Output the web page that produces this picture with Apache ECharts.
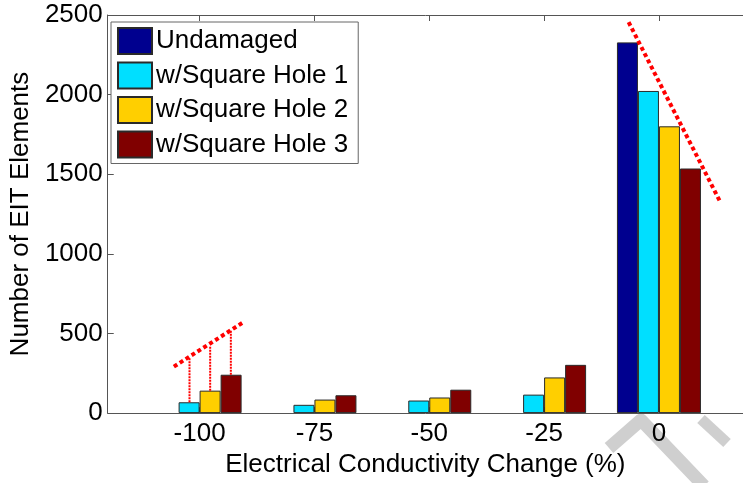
<!DOCTYPE html>
<html>
<head>
<meta charset="utf-8">
<script src="https://cdn.jsdelivr.net/npm/echarts@6/dist/echarts.min.js"></script>
<style>
html,body{margin:0;padding:0;background:#fff;}
#chart{width:743px;height:483px;}
</style>
</head>
<body>
<div id="chart"></div>
<script>
// ---- data ----
var categories = [-100, -75, -50, -25, 0];
var seriesNames = ['Undamaged', 'w/Square Hole 1', 'w/Square Hole 2', 'w/Square Hole 3'];
var undamaged = [0, 0, 0, 0, 2328];
var hole1 = [68, 52, 79, 116, 2023];
var hole2 = [141, 85, 98, 224, 1801];
var hole3 = [241, 112, 147, 303, 1536];
var yTicks = [0, 500, 1000, 1500, 2000, 2500];
// annotation lines (data coordinates)
var trendLow = [[-105.6, 292], [-90.4, 572]];
var trendHigh = [[-6.6, 2455], [13.3, 1329]];
var dropLine1 = [[-102.2, 68], [-102.2, 344]];
var dropLine2 = [[-97.7, 141], [-97.7, 421]];
var dropLine3 = [[-93.2, 241], [-93.2, 520]];

var colors = ['#00008F', '#00DFFF', '#FFCF00', '#800000'];
var FONT = "'Liberation Sans', Arial, sans-serif";

function pairs(vals) {
  return categories.map(function (c, i) {
    var item = { value: [c, vals[i]] };
    if (vals[i] === 0) { item.itemStyle = { borderWidth: 0 }; }
    return item;
  });
}
var allVals = [undamaged, hole1, hole2, hole3];

var series = allVals.map(function (vals, k) {
  return {
    name: seriesNames[k],
    type: 'bar',
    data: pairs(vals),
    barWidth: 21,
    barGap: '0%',
    itemStyle: { color: colors[k], borderColor: '#2a2a2a', borderWidth: 1 },
    emphasis: { disabled: true },
    z: 3
  };
});

function annot(name, data, width, dash) {
  return {
    name: name,
    type: 'line',
    data: data,
    showSymbol: false,
    symbol: 'none',
    silent: true,
    z: 5,
    lineStyle: { color: '#ff0000', width: width, type: dash, cap: 'butt' }
  };
}
series.push(annot('trendLow', trendLow, 4, [4, 3]));
series.push(annot('trendHigh', trendHigh, 4, [4, 3]));
series.push(annot('drop1', dropLine1, 2, [2, 1]));
series.push(annot('drop2', dropLine2, 2, [2, 1]));
series.push(annot('drop3', dropLine3, 2, [2, 1]));

var axisColor = '#555';
var chart = echarts.init(document.getElementById('chart'), null, { renderer: 'canvas' });
chart.setOption({
  animation: false,
  backgroundColor: '#ffffff',
  textStyle: { fontFamily: FONT },
  grid: { left: 105, top: 15, right: 0, height: 402 },
  legend: {
    data: seriesNames,
    orient: 'vertical',
    left: 111,
    top: 22,
    padding: [5, 10, 5, 6],
    itemWidth: 34,
    itemHeight: 26,
    itemGap: 6.5,
    borderColor: '#666',
    borderWidth: 1,
    backgroundColor: '#fff',
    icon: 'rect',
    selectedMode: false,
    textStyle: { fontSize: 26, color: '#000', fontFamily: FONT, lineHeight: 26, padding: [0, 0, 0, -1] }
  },
  xAxis: [{
    type: 'value',
    min: -120,
    max: 18.3,
    position: 'bottom',
    name: 'Electrical Conductivity Change (%)',
    nameLocation: 'middle',
    nameGap: 33,
    nameTextStyle: { fontSize: 26, color: '#000', fontFamily: FONT, lineHeight: 26, padding: [0, 0, 0, 0] },
    axisLine: { show: true, onZero: false, lineStyle: { color: axisColor, width: 1 } },
    axisTick: { show: true, inside: true, length: 6, customValues: categories, lineStyle: { color: axisColor } },
    axisLabel: { customValues: categories, fontSize: 26, color: '#000', margin: 8, fontFamily: FONT, lineHeight: 26 },
    splitLine: { show: false }
  }, {
    type: 'value',
    min: -120,
    max: 18.3,
    position: 'top',
    axisLine: { show: true, onZero: false, lineStyle: { color: axisColor, width: 1 } },
    axisTick: { show: true, inside: true, length: 6, customValues: categories, lineStyle: { color: axisColor } },
    axisLabel: { show: false },
    splitLine: { show: false }
  }],
  yAxis: {
    type: 'value',
    min: 0,
    max: 2500,
    interval: 500,
    position: 'left',
    name: 'Number of EIT Elements',
    nameLocation: 'middle',
    nameGap: 69,
    nameTextStyle: { fontSize: 26, color: '#000', fontFamily: FONT, lineHeight: 26 },
    axisLine: { show: true, onZero: false, lineStyle: { color: axisColor, width: 1 } },
    axisTick: { show: true, inside: true, length: 6, lineStyle: { color: axisColor } },
    axisLabel: { fontSize: 26, color: '#000', margin: 5, fontFamily: FONT, padding: [5, 0, 0, 0],
      formatter: function (v) { return yTicks.indexOf(v) >= 0 ? String(v) : ''; } },
    splitLine: { show: false }
  },
  graphic: [{
    type: 'group',
    z: -10,
    silent: true,
    children: [
      { type: 'polyline', shape: { points: [[609, 448], [641, 420], [704, 486]] },
        style: { stroke: '#cfcfcf', lineWidth: 13, fill: null, lineJoin: 'round' }, z: -10 },
      { type: 'line', shape: { x1: 701, y1: 419, x2: 727, y2: 443 },
        style: { stroke: '#cfcfcf', lineWidth: 11 }, z: -10 }
    ]
  }],
  series: series
});
</script>
</body>
</html>
